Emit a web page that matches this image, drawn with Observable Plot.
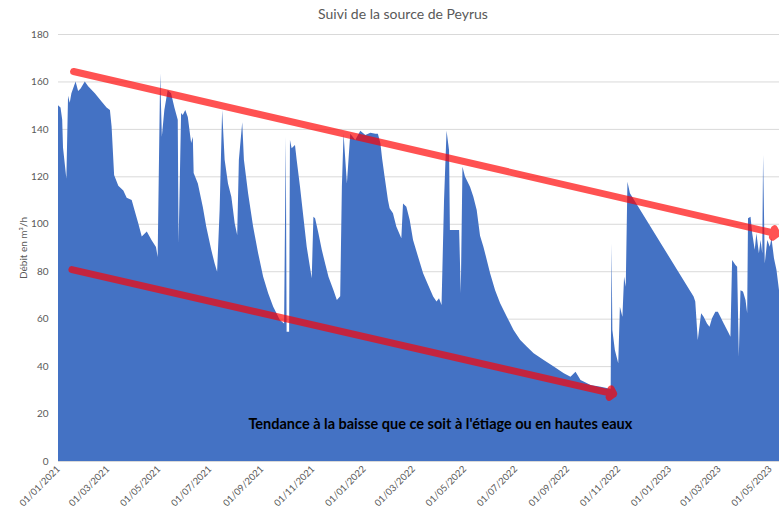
<!DOCTYPE html>
<html>
<head>
<meta charset="utf-8">
<script src="https://cdn.jsdelivr.net/npm/d3@7"></script>
<script src="https://cdn.jsdelivr.net/npm/@observablehq/plot@0.6"></script>
<style>
  body { margin: 0; background: #fff; }
  #chart { position: relative; width: 779px; height: 511px; overflow: hidden; font-family: Lato, "Open Sans", sans-serif; }
  #title { width: 806px; height: 28px; line-height: 27px; text-align: center; font-size: 14px; color: #595959; white-space: nowrap; }
</style>
</head>
<body>
<div id="chart">
  <div id="title">Suivi de la source de Peyrus</div>
</div>
<script>
// ---- Data ----
const dates = [
  "2021-01-01","2021-01-04","2021-01-06","2021-01-07","2021-01-11","2021-01-13","2021-01-15","2021-01-17","2021-01-22","2021-01-25",
  "2021-01-28","2021-02-02","2021-02-06","2021-02-14","2021-02-22","2021-02-28","2021-03-04","2021-03-06","2021-03-09","2021-03-14",
  "2021-03-20","2021-03-24","2021-03-30","2021-04-03","2021-04-07","2021-04-11","2021-04-17","2021-04-23","2021-04-28","2021-04-30",
  "2021-05-03","2021-05-05","2021-05-08","2021-05-12","2021-05-16","2021-05-20","2021-05-24","2021-05-25","2021-05-28","2021-05-30",
  "2021-06-02","2021-06-05","2021-06-09","2021-06-11","2021-06-12","2021-06-17","2021-06-23","2021-06-27","2021-07-03","2021-07-07",
  "2021-07-10","2021-07-13","2021-07-16","2021-07-19","2021-07-23","2021-07-27","2021-07-31","2021-08-03","2021-08-05","2021-08-09",
  "2021-08-11","2021-08-16","2021-08-22","2021-08-28","2021-09-03","2021-09-09","2021-09-15","2021-09-23","2021-09-28","2021-09-30",
  "2021-10-01","2021-10-04","2021-10-05","2021-10-07","2021-10-11","2021-10-13","2021-10-17","2021-10-21","2021-10-25","2021-10-31",
  "2021-11-02","2021-11-04","2021-11-08","2021-11-12","2021-11-16","2021-11-20","2021-11-26","2021-11-30","2021-12-04","2021-12-06",
  "2021-12-08","2021-12-12","2021-12-16","2021-12-22","2021-12-28","2022-01-03","2022-01-09","2022-01-15","2022-01-18","2022-01-21",
  "2022-01-23","2022-01-26","2022-01-30","2022-02-01","2022-02-05","2022-02-09","2022-02-15","2022-02-17","2022-02-21","2022-02-25",
  "2022-03-01","2022-03-07","2022-03-13","2022-03-19","2022-03-25","2022-03-29","2022-04-01","2022-04-04","2022-04-07","2022-04-10",
  "2022-04-13","2022-04-14","2022-04-25","2022-04-27","2022-04-29","2022-05-02","2022-05-08","2022-05-12","2022-05-16","2022-05-20",
  "2022-05-24","2022-05-26","2022-06-01","2022-06-07","2022-06-13","2022-06-21","2022-06-29","2022-07-07","2022-07-15","2022-07-23",
  "2022-08-04","2022-08-16","2022-08-28","2022-09-05","2022-09-11","2022-09-17","2022-09-29","2022-10-11","2022-10-21","2022-10-23",
  "2022-10-24","2022-10-25","2022-10-28","2022-11-01","2022-11-03","2022-11-06","2022-11-08","2022-11-10","2022-11-12","2022-11-15",
  "2023-01-30","2023-02-01","2023-02-04","2023-02-08","2023-02-11","2023-02-15","2023-02-18","2023-02-21","2023-02-25","2023-02-28",
  "2023-03-03","2023-03-07","2023-03-13","2023-03-15","2023-03-17","2023-03-21","2023-03-23","2023-03-25","2023-03-27","2023-03-30",
  "2023-04-02","2023-04-04","2023-04-05","2023-04-08","2023-04-10","2023-04-13","2023-04-15","2023-04-18","2023-04-20","2023-04-22",
  "2023-04-23","2023-04-25","2023-04-28","2023-05-01","2023-05-03","2023-05-06","2023-05-09","2023-05-12"
];
const flows = [
  150,149,144,132,119,154,151,155,160,156,
  157,160,158,155,151.5,149,148,141,120.6,116,
  114,111,110,105,100,94.6,96.7,93,90.2,86,
  163.4,136.7,148,156.4,155,149,143.8,92,146.7,145.9,
  148,145,134,136.7,121.4,117,107,98.8,89,83.4,
  79.8,105.8,148,127,117,111.4,100.2,95.3,127,142.8,
  127,112.9,98.8,87.6,77.7,70.7,65,59.4,58,136.7,
  54.5,54.5,135.3,131.8,133.2,127,115.6,103,90.3,77,
  103,102.3,96,89,83.3,77.7,72,67.9,69.5,115.6,
  138,117,138,135.3,139.2,137.4,138.4,138,138,133.9,
  127.6,119.9,110,106.5,104.4,98.8,93.9,108.6,107.2,101.6,
  93.2,86.1,79.1,74.2,69.3,67.2,68.6,65.8,110,139.2,
  131,97.4,97.4,70.7,124,119.9,115.6,111.4,105.8,95,
  90.3,87.6,79.1,72,66.5,60.8,55.2,51,48.2,45.4,
  42.6,39.8,37,35.5,37.6,34.1,32,31.3,30.6,30.5,
  91.8,55.2,46.8,41.2,65,60.8,77.7,73.5,117.7,112.9,
  69.3,67.2,51,62.3,60.8,58,56.6,60.2,62.9,62.9,
  60.8,58,53.8,52.4,84.7,82.6,81.9,44,72,71.4,
  67.9,62.3,102.3,103,96,89,96,87.6,93.2,87.6,
  129,83.3,93.2,90.3,93.9,85.5,80.5,72
];
const xDomain = ["2021-01-01", "2023-05-12"];
const tickDates = [
  "2021-01-01","2021-03-01","2021-05-01","2021-07-01","2021-09-01","2021-11-01",
  "2022-01-01","2022-03-01","2022-05-01","2022-07-01","2022-09-01","2022-11-01",
  "2023-01-01","2023-03-01","2023-05-01"
];
const yTicks = [0, 20, 40, 60, 80, 100, 120, 140, 160, 180];
// Trend arrows: [start date, start value, end date, end value]
const trendStartDates = ["2021-01-19", "2021-01-17"];
const trendStartValues = [164.4, 80.9];
const trendEndDates = ["2023-05-09", "2022-10-26"];
const trendEndValues = [96, 28.5];
const noteText = "Tendance à la baisse que ce soit à l'étiage ou en hautes eaux";
const noteDate = "2022-04-02";
const noteValue = 15.6;

// ---- Build ----
const parse = d3.utcParse("%Y-%m-%d");
const data = dates.map((d, i) => ({date: parse(d), flow: flows[i]}));
const trends = trendStartDates.map((d, i) => ({
  x1: parse(d), y1: trendStartValues[i], x2: parse(trendEndDates[i]), y2: trendEndValues[i]
}));
const fmt = d3.utcFormat("%d/%m/%Y");

const chart = Plot.plot({
  width: 779,
  height: 483,
  marginTop: 6,
  marginBottom: 50,
  marginLeft: 58,
  marginRight: 0,
  style: {fontFamily: "Lato, 'Open Sans', sans-serif", fontSize: "10px", color: "#595959", background: "#fff", overflow: "visible"},
  x: {type: "utc", domain: xDomain.map(parse)},
  y: {domain: [0, 180]},
  marks: [
    Plot.gridY(yTicks, {stroke: "#d9d9d9", strokeOpacity: 1}),
    Plot.areaY(data, {x: "date", y: "flow", fill: "#4472C4", curve: "linear"}),
    Plot.ruleY([0], {stroke: "#d9d9d9"}),
    Plot.arrow(trends, {x1: "x1", y1: "y1", x2: "x2", y2: "y2", stroke: "#ff0000", strokeOpacity: 0.68, strokeWidth: 7, headLength: 1.2, headAngle: 100, strokeLinejoin: "miter"}),
    Plot.text([noteText], {x: parse(noteDate), y: noteValue, text: d => d, fill: "#000", fontWeight: "bold", fontSize: 14.5, textAnchor: "middle"}),
    Plot.axisX(tickDates.map(parse), {tickFormat: fmt, tickRotate: -45, tickSize: 0, tickPadding: 6, label: null, fill: "#595959", fontSize: 9.5}),
    Plot.axisY(yTicks, {tickSize: 0, tickPadding: 10, label: "Débit en m³/h", labelAnchor: "center", labelArrow: "none", labelOffset: 39, fill: "#595959"})
  ]
});
document.getElementById("chart").appendChild(chart);
</script>
</body>
</html>
